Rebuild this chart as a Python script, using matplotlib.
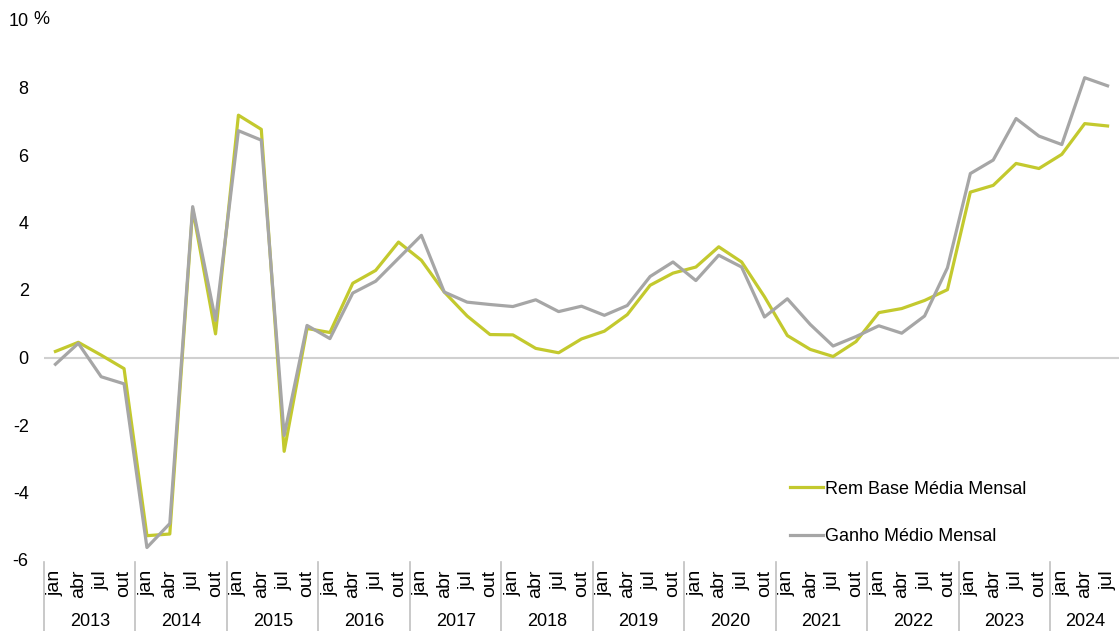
import matplotlib.pyplot as plt
import numpy as np

plt.rcParams['font.family'] = ['Liberation Sans', 'DejaVu Sans']
plt.rcParams['axes.unicode_minus'] = False

years = ['2013', '2014', '2015', '2016', '2017', '2018', '2019', '2020',
         '2021', '2022', '2023', '2024']
months = ['jan', 'abr', 'jul', 'out']

# quarterly year-on-year change (%)
rem_base = [0.18, 0.45, 0.07, -0.33,
            -5.28, -5.23, 4.4, 0.7,
            7.18, 6.76, -2.78, 0.86,
            0.74, 2.2, 2.58, 3.42,
            2.88, 1.94, 1.23, 0.68,
            0.67, 0.27, 0.14, 0.55,
            0.78, 1.27, 2.14, 2.5,
            2.68, 3.28, 2.83, 1.8,
            0.65, 0.24, 0.03, 0.47,
            1.33, 1.45, 1.69, 2.01,
            4.9, 5.1, 5.75, 5.6,
            6.02, 6.93, 6.86]
ganho = [-0.2, 0.42, -0.57, -0.78,
         -5.63, -4.92, 4.47, 1.1,
         6.72, 6.44, -2.31, 0.95,
         0.56, 1.91, 2.26, 2.94,
         3.62, 1.94, 1.64, 1.57,
         1.51, 1.71, 1.36, 1.52,
         1.25, 1.54, 2.4, 2.83,
         2.28, 3.03, 2.68, 1.2,
         1.74, 0.98, 0.34, 0.62,
         0.94, 0.72, 1.23, 2.66,
         5.45, 5.85, 7.08, 6.56,
         6.31, 8.29, 8.05]

green = '#c3c92e'
grey = '#a6a6a6'
fs = 13

n = len(rem_base)
x = np.arange(n)

fig = plt.figure(figsize=(11.19, 6.31), dpi=100)
ax = fig.add_axes([44 / 1119, 71 / 631, 1 - 44 / 1119, 540 / 631])

ax.axhline(0, color='#d0d0d0', lw=1.5, zorder=1)
ax.plot(x, rem_base, color=green, lw=2.3, label='Rem Base Média Mensal', zorder=3)
ax.plot(x, ganho, color=grey, lw=2.3, label='Ganho Médio Mensal', zorder=3)

ax.set_xlim(-0.5, n - 0.5)
ax.set_ylim(-6, 10)
ax.set_yticks(np.arange(-6, 11, 2))
ax.tick_params(axis='y', length=0, labelsize=fs, pad=11)
ax.set_xticks([])
for s in ax.spines.values():
    s.set_visible(False)
ax.annotate('%', xy=(0, 10), xycoords=('axes fraction', 'data'),
            xytext=(-11, 0), textcoords='offset pixels',
            ha='left', va='center', fontsize=fs)

# two-level category axis: quarter under each point, year below
tr = ax.get_xaxis_transform()
for i in range(n):
    ax.text(i, -10 / 540, months[i % 4], transform=tr, rotation=90,
            ha='center', va='top', fontsize=14, clip_on=False)
for k, yr in enumerate(years):
    start = 4 * k - 0.5
    end = min(4 * k + 3.5, n - 0.5)
    ax.text((start + end) / 2, -61.5 / 540, yr, transform=tr,
            ha='center', va='center', fontsize=fs, clip_on=False)
    ax.plot([start, start], [-2 / 540, -71 / 540], transform=tr,
            color='#c0c0c0', lw=1.2, clip_on=False)

ax.legend(loc='upper left', bbox_to_anchor=(790 / 1119, 1 - 480.5 / 631),
          bbox_transform=fig.transFigure, frameon=False, fontsize=fs,
          handlelength=1.83, handletextpad=0.12, labelspacing=1.7,
          borderpad=0, borderaxespad=0)

fig.savefig('out.png', dpi=100)
